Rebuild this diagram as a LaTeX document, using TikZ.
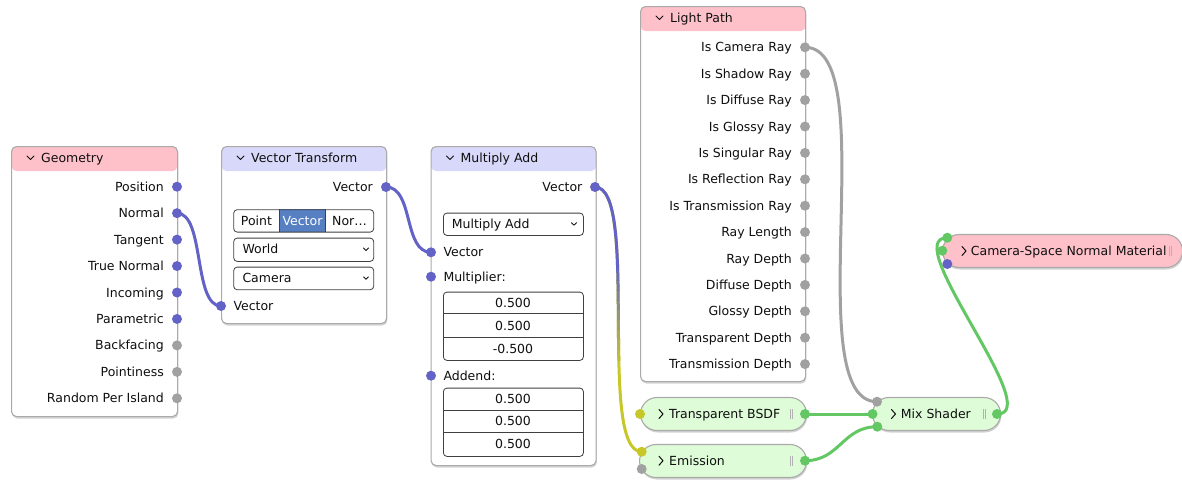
\documentclass[tikz,border=0pt]{standalone}
\usepackage{fontspec}
\setmainfont{DejaVu Sans}
\usetikzlibrary{shadows,positioning}
\definecolor{hdpink}{RGB}{255,193,201}
\definecolor{hdlav}{RGB}{216,216,250}
\definecolor{shgreen}{RGB}{222,252,215}
\definecolor{skblue}{RGB}{99,99,199}
\definecolor{skgray}{RGB}{161,161,161}
\definecolor{skgreen}{RGB}{99,199,99}
\definecolor{skyellow}{RGB}{199,199,41}
\definecolor{selblue}{RGB}{86,128,194}
\definecolor{rim}{RGB}{170,170,170}
\definecolor{txt}{RGB}{15,15,15}
\pgfdeclarelayer{bg}
\pgfdeclarelayer{wires}
\pgfsetlayers{bg,wires,main}

\begin{document}
\begin{tikzpicture}[x=1pt,y=-1pt]
  \tikzstyle{card}=[draw=rim,line width=1.1pt,fill=white,rounded corners=5pt,
    anchor=north west,inner sep=0pt,minimum width=165pt,
    drop shadow={shadow xshift=0.8pt,shadow yshift=-2pt,opacity=0.35}]
  \tikzstyle{cardin}=[card,path picture={\fill[hdpink] (path picture bounding box.north west)
    rectangle ([yshift=-24.5pt]path picture bounding box.north east);}]
  \tikzstyle{cardcv}=[card,path picture={\fill[hdlav] (path picture bounding box.north west)
    rectangle ([yshift=-24.5pt]path picture bounding box.north east);}]
  \tikzstyle{pill}=[draw=rim,line width=1.1pt,fill=shgreen,rounded corners=16.5pt,
    anchor=west,inner sep=0pt,minimum height=33pt,
    drop shadow={shadow xshift=0.8pt,shadow yshift=-2pt,opacity=0.35}]
  \tikzstyle{fld}=[draw=black!75,line width=0.8pt,fill=white,rounded corners=3.5pt,
    anchor=north west,inner sep=0pt,minimum width=140pt]
  \tikzstyle{fldline}=[draw=black!75,line width=0.8pt]
  \tikzstyle{lab}=[font=\fontsize{12.5}{15}\selectfont,text=txt,inner sep=0pt,
    text height=9pt,text depth=0pt]
  \tikzstyle{sk}=[circle,minimum size=10pt,inner sep=0pt]
  \tikzstyle{chev}=[draw=txt,line width=1pt,line cap=round,line join=round]
  \tikzstyle{grip}=[draw=black!30,line width=0.8pt]
  \tikzstyle{wire}=[line width=3pt,line cap=round]

  \useasboundingbox (0,0) rectangle (1182,480);

  % -- node bodies --
  \begin{pgfonlayer}{bg}
    \node[cardin,minimum width=166pt,minimum height=270pt] (geo) at (11,146) {};
    \node[cardcv,minimum height=177pt] (vt) at (221,146) {};
    \node[cardcv,minimum height=319pt] (ma) at (430.5,146) {};
    \node[cardin,minimum height=375pt] (lp) at (640,6) {};
    \node[pill,minimum width=166pt] (tr) at (640,414) {};
    \node[pill,minimum width=167pt] (em) at (639,461) {};
    \node[pill,minimum width=128pt] (mix) at (872,414) {};
    \node[pill,fill=hdpink,minimum width=240pt] (cam) at (942,251) {};
  \end{pgfonlayer}

  % -- Geometry --
  \draw[chev] (27,156) -- (30.5,159.5) -- (34,156);
  \node[lab,anchor=west] (geoT) at (41,158) {Geometry};
  \foreach \lab/\col [count=\i from 0] in {Position/skblue,Normal/skblue,Tangent/skblue,
      True Normal/skblue,Incoming/skblue,Parametric/skblue,Backfacing/skgray,
      Pointiness/skgray,Random Per Island/skgray}{
    \node[sk,fill=\col] (geo\i) at (177,{186.7+26.45*\i}) {};
    \node[lab,anchor=east] (geoL\i) at (164,{186.7+26.45*\i}) {\lab};
  }

  % -- Vector Transform --
  \draw[chev] (237,156) -- (240.5,159.5) -- (244,156);
  \node[lab,anchor=west] (vtT) at (251,158) {Vector Transform};
  \node[lab,anchor=east] (vtOutL) at (373,187) {Vector};
  \node[sk,fill=skblue] (vtOut) at (386,187) {};
  \fill[selblue] (279.3,209.3) rectangle (325.7,231.7);
  \node[fld,fill=none,minimum height=22.4pt] (vtMode) at (233.3,209.3) {};
  \draw[fldline] (279.3,209.3) -- (279.3,231.7) (325.7,209.3) -- (325.7,231.7);
  \node[lab] (vtPoint) at (256.5,220.5) {Point};
  \node[lab,text=white] (vtVec) at (302.5,220.5) {Vector};
  \node[lab] (vtNor) at (349.5,220.5) {Nor…};
  \node[fld,minimum height=23.3pt] (vtFrom) at (233.3,237.7) {};
  \node[lab,anchor=west] (vtFromL) at (242.3,249.3) {World};
  \draw[chev,line width=0.8pt] (363.5,248) -- (366,250.5) -- (368.5,248);
  \node[fld,minimum height=22.6pt] (vtTo) at (233.3,266.7) {};
  \node[lab,anchor=west] (vtToL) at (242.3,278) {Camera};
  \draw[chev,line width=0.8pt] (363.5,276.8) -- (366,279.3) -- (368.5,276.8);
  \node[sk,fill=skblue] (vtIn) at (221,306) {};
  \node[lab,anchor=west] (vtInL) at (233.3,306) {Vector};

  % -- Multiply Add --
  \draw[chev] (446.5,156) -- (450,159.5) -- (453.5,156);
  \node[lab,anchor=west] (maT) at (460.5,158) {Multiply Add};
  \node[lab,anchor=east] (maOutL) at (582.5,187) {Vector};
  \node[sk,fill=skblue] (maOut) at (595,187) {};
  \node[fld,minimum height=22.3pt] (maOp) at (443,212.7) {};
  \node[lab,anchor=west] (maOpL) at (451.7,224) {Multiply Add};
  \draw[chev,line width=0.8pt] (571.5,222.7) -- (574,225.2) -- (576.5,222.7);
  \node[sk,fill=skblue] (maIn) at (431,252.3) {};
  \node[lab,anchor=west] (maInL) at (443.3,252.3) {Vector};
  \node[sk,fill=skblue] (maMul) at (431,276.7) {};
  \node[lab,anchor=west] (maMulL) at (443.3,276.7) {Multiplier:};
  \node[fld,minimum height=68.3pt] (maMulF) at (443,291.7) {};
  \draw[fldline] (443,313.7) -- (583,313.7) (443,337.3) -- (583,337.3);
  \node[lab] (maMul1) at (513,302.7) {0.500};
  \node[lab] (maMul2) at (513,325.5) {0.500};
  \node[lab] (maMul3) at (513,348.7) {-0.500};
  \node[sk,fill=skblue] (maAdd) at (431,375.7) {};
  \node[lab,anchor=west] (maAddL) at (443.3,375.7) {Addend:};
  \node[fld,minimum height=68.3pt] (maAddF) at (443,387.7) {};
  \draw[fldline] (443,410) -- (583,410) (443,432.7) -- (583,432.7);
  \node[lab] (maAdd1) at (513,398.8) {0.500};
  \node[lab] (maAdd2) at (513,421.3) {0.500};
  \node[lab] (maAdd3) at (513,444.3) {0.500};

  % -- Light Path --
  \draw[chev] (656,16) -- (659.5,19.5) -- (663,16);
  \node[lab,anchor=west] (lpT) at (670,18) {Light Path};
  \foreach \lab [count=\i from 0] in {Is Camera Ray,Is Shadow Ray,Is Diffuse Ray,
      Is Glossy Ray,Is Singular Ray,Is Reflection Ray,Is Transmission Ray,Ray Length,
      Ray Depth,Diffuse Depth,Glossy Depth,Transparent Depth,Transmission Depth}{
    \node[sk,fill=skgray] (lp\i) at (805,{47.3+26.4*\i}) {};
    \node[lab,anchor=east] (lpL\i) at (792,{47.3+26.4*\i}) {\lab};
  }

  % -- collapsed shader nodes --
  \node[sk,fill=skyellow] (trCol) at (640,414) {};
  \node[sk,fill=skgreen] (trOut) at (805,414) {};
  \draw[chev] (659,409.5) -- (663,414) -- (659,418.5);
  \node[lab,anchor=west] (trL) at (669,414) {Transparent BSDF};
  \draw[grip] (790.5,409) -- (790.5,419) (792.5,409) -- (792.5,419);

  \node[sk,fill=skyellow] (emCol) at (641.7,451.7) {};
  \node[sk,fill=skgray] (emStr) at (641.7,469) {};
  \node[sk,fill=skgreen] (emOut) at (805,460.7) {};
  \draw[chev] (659,456.2) -- (663,460.7) -- (659,465.2);
  \node[lab,anchor=west] (emL) at (669,460.7) {Emission};
  \draw[grip] (790.5,455.7) -- (790.5,465.7) (792.5,455.7) -- (792.5,465.7);

  \node[sk,fill=skgray] (mixFac) at (877,401.7) {};
  \node[sk,fill=skgreen] (mixA) at (872.5,414) {};
  \node[sk,fill=skgreen] (mixB) at (877.3,426.7) {};
  \node[sk,fill=skgreen] (mixOut) at (997,414) {};
  \draw[chev] (891.5,409.5) -- (895.5,414) -- (891.5,418.5);
  \node[lab,anchor=west] (mixL) at (900.7,414) {Mix Shader};
  \draw[grip] (983,409) -- (983,419) (985,409) -- (985,419);

  \node[sk,fill=skgreen] (camA) at (947.3,237.7) {};
  \node[sk,fill=skgreen] (camB) at (942.3,250.7) {};
  \node[sk,fill=skblue] (camC) at (947.3,264) {};
  \draw[chev] (962,246.5) -- (966,251) -- (962,255.5);
  \node[lab,anchor=west] (camL) at (970.7,251) {Camera-Space Normal Material};
  \draw[grip] (1169.5,246) -- (1169.5,256) (1171.5,246) -- (1171.5,256);

  % -- links --
  \begin{pgfonlayer}{wires}
    \draw[wire,skblue] (geo1.center) .. controls +(28,0) and +(-28,0) .. (vtIn.center);
    \draw[wire,skblue] (vtOut.center) .. controls +(28,0) and +(-28,0) .. (maIn.center);
    \def\mawire{(maOut.center) .. controls +(45,0) and +(-45,0) .. (emCol.center)}
    \draw[wire,skyellow] \mawire;
    \begin{scope}
      \clip (580,0) rectangle (670,270);
      \draw[wire,skblue] \mawire;
    \end{scope}
    \foreach \i in {1,...,9}{
      \pgfmathtruncatemacro\p{100-10*\i}
      \begin{scope}
        \clip (580,{260+10*\i}) rectangle (670,{270+10*\i});
        \draw[wire,skblue!\p!skyellow] \mawire;
      \end{scope}
    }
    \draw[wire,skgray] (lp0.center) .. controls +(80,0) and +(-80,0) .. (mixFac.center);
    \draw[wire,skgreen] (trOut.center) -- (mixA.center);
    \draw[wire,skgreen] (emOut.center) .. controls +(35,0) and +(-35,0) .. (mixB.center);
    \draw[wire,skgreen] (mixOut.center) .. controls +(50,0) and +(-50,0) .. (camA.center);
  \end{pgfonlayer}
\end{tikzpicture}
\end{document}
